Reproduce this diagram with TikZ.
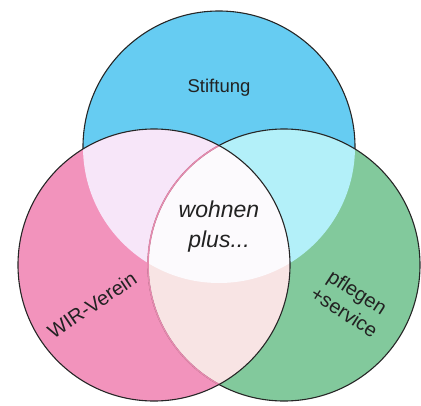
\documentclass[tikz,border=0pt]{standalone}
\usepackage{fontspec}
\setmainfont{Liberation Sans}
\definecolor{cblue}{HTML}{66CCF2}
\definecolor{cpink}{HTML}{F293BC}
\definecolor{cgreen}{HTML}{82C99C}
\definecolor{cbp}{HTML}{F7E6F9}
\definecolor{cbg}{HTML}{B3F0F9}
\definecolor{cpg}{HTML}{F8E4E4}
\definecolor{call}{HTML}{FCFAFD}
\definecolor{cedge}{HTML}{E58AAE}
\definecolor{ctext}{HTML}{222222}
\begin{document}
\begin{tikzpicture}[x=1pt,y=-1pt,
  outl/.style={draw=black!85, line width=1.1pt},
  lab/.style={font=\fontsize{18.5}{22}\selectfont, text=ctext, inner sep=0pt}]
\useasboundingbox (0,0) rectangle (421,405);
\def\R{136pt}
\coordinate (B) at (219,147);
\coordinate (P) at (154,265);
\coordinate (G) at (284,265);
% base fills
\fill[cblue] (B) circle (\R);
\draw[outl] (B) circle (\R);
\fill[cpink] (P) circle (\R);
\fill[cgreen] (G) circle (\R);
% pairwise overlaps
\begin{scope}\clip (B) circle (\R); \fill[cbp] (P) circle (\R); \end{scope}
\begin{scope}\clip (B) circle (\R); \fill[cbg] (G) circle (\R); \end{scope}
\begin{scope}\clip (P) circle (\R); \fill[cpg] (G) circle (\R); \end{scope}
\begin{scope}\clip (B) circle (\R); \clip (P) circle (\R); \fill[call] (G) circle (\R); \end{scope}
% outlines
\draw[outl] (G) circle (\R);
\begin{scope}\clip (P) circle (\R); \draw[cedge, line width=1.6pt] (G) circle (\R); \end{scope}
\draw[outl] (P) circle (\R);
% labels
\node[lab] (stift) at (219,88) {Stiftung};
\node[lab, font=\fontsize{23}{30}\selectfont\itshape, align=center] (wp) at (219,227) {wohnen\\plus...};
\node[lab, rotate=34, font=\fontsize{20}{24}\selectfont] (wir) at (92,305) {WIR-Verein};
\node[lab, rotate=-33, align=center, font=\fontsize{20}{24}\selectfont] (pf) at (351,302) {pflegen\\+service};
\end{tikzpicture}
\end{document}
